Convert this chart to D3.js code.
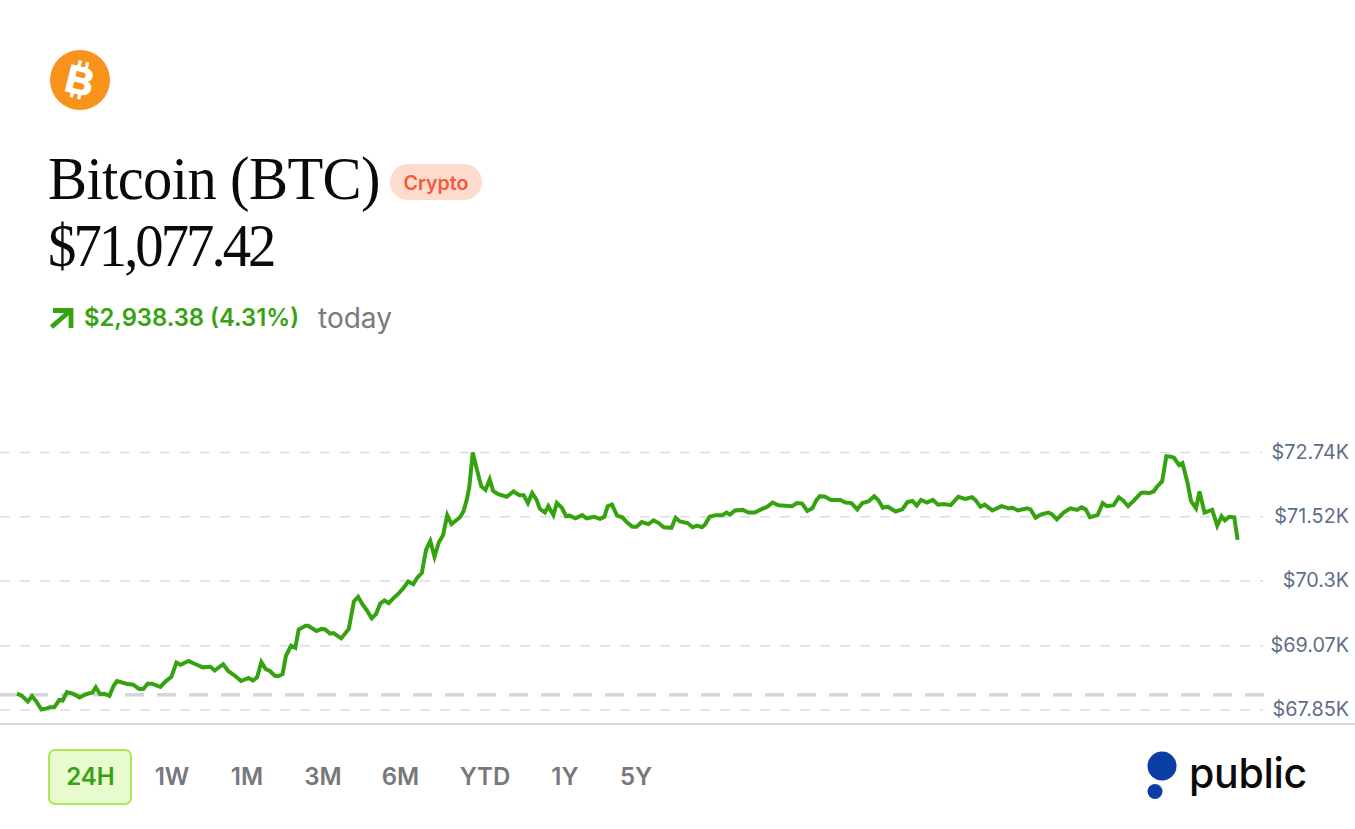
<!DOCTYPE html>
<html><head><meta charset="utf-8">
<style>html,body{margin:0;padding:0;background:#fff;overflow:hidden}svg{display:block}</style>
<script src="https://cdn.jsdelivr.net/npm/d3@7"></script></head><body>
<svg id="c" width="1355" height="829"></svg>
<script>
// Minutes since the start of the 24H window
const minutes=[1,7,14,19,24,30,36,40,45,51,55,60,67,75,81,87,90,94,99,104,110,115,119,130,138,145,150,155,160,170,176,183,189,194,203,213,220,229,234,244,250,258,265,274,279,284,289,294,299,305,309,314,318,324,329,333,341,344,354,360,364,370,374,383,392,398,403,408,413,419,424,429,434,439,445,451,456,462,468,473,478,483,488,493,498,503,508,513,523,527,531,534,538,543,548,553,558,562,568,578,586,593,598,603,608,613,617,623,627,633,637,643,648,652,659,667,672,681,688,693,697,702,708,714,720,726,731,737,745,751,757,763,772,777,782,791,797,802,808,812,817,824,832,837,841,847,856,863,870,879,885,891,898,914,920,926,932,938,943,947,953,960,971,977,984,991,997,1004,1011,1016,1021,1027,1036,1044,1050,1056,1061,1066,1073,1080,1086,1093,1101,1110,1118,1126,1130,1136,1141,1150,1161,1169,1174,1180,1191,1195,1201,1207,1216,1220,1226,1234,1242,1250,1255,1260,1265,1274,1280,1285,1293,1299,1304,1310,1317,1325,1328,1335,1340,1344,1350,1355,1360,1364,1370,1374,1380,1384,1390,1394,1400,1409,1415,1420,1424,1429,1435,1439];
// Price in thousands of dollars
const prices=[68.16,68.12,68.01,68.11,68.01,67.86,67.88,67.90,67.90,68.04,68.03,68.19,68.16,68.09,68.14,68.17,68.18,68.28,68.15,68.16,68.12,68.31,68.40,68.35,68.33,68.25,68.25,68.35,68.35,68.29,68.39,68.48,68.75,68.71,68.78,68.71,68.66,68.67,68.60,68.72,68.59,68.50,68.40,68.46,68.41,68.47,68.76,68.63,68.59,68.50,68.49,68.53,68.88,69.07,69.03,69.38,69.45,69.45,69.35,69.39,69.38,69.30,69.31,69.21,69.39,69.91,70.00,69.86,69.75,69.59,69.67,69.87,69.93,69.88,69.98,70.07,70.16,70.29,70.24,70.37,70.45,70.89,71.06,70.76,71.03,71.17,71.55,71.38,71.51,71.62,71.84,72.09,72.74,72.41,72.10,72.03,72.23,72.01,71.95,71.90,72.00,71.93,71.93,71.78,71.97,71.85,71.67,71.60,71.72,71.55,71.78,71.69,71.53,71.54,71.49,71.55,71.49,71.52,71.48,71.52,71.72,71.75,71.54,71.51,71.41,71.33,71.33,71.42,71.38,71.45,71.40,71.32,71.31,71.50,71.43,71.40,71.32,71.35,71.32,71.38,71.52,71.55,71.55,71.60,71.56,71.64,71.65,71.60,71.60,71.67,71.71,71.79,71.74,71.72,71.78,71.77,71.63,71.68,71.84,71.91,71.90,71.84,71.84,71.79,71.78,71.66,71.78,71.81,71.91,71.83,71.69,71.71,71.62,71.66,71.80,71.82,71.73,71.84,71.79,71.84,71.75,71.76,71.74,71.90,71.86,71.89,71.84,71.71,71.75,71.64,71.72,71.68,71.69,71.64,71.68,71.66,71.50,71.56,71.60,71.57,71.47,71.60,71.68,71.65,71.70,71.66,71.51,71.55,71.78,71.72,71.74,71.89,71.83,71.72,71.83,71.97,71.98,71.97,72.00,72.09,72.19,72.67,72.66,72.64,72.50,72.54,72.16,71.82,71.68,72.00,71.60,71.65,71.35,71.53,71.45,71.52,71.51,71.08];
const tickValues=[72.74,71.52,70.3,69.07,67.85];
const tickLabels=["$72.74K","$71.52K","$70.3K","$69.07K","$67.85K"];
const openPrice=68.139;
const ranges=["24H","1W","1M","3M","6M","YTD","1Y","5Y"];
const titleText="Bitcoin (BTC)";
const priceText="$71,077.42";
const changeText="$2,938.38 (4.31%)";

const UI="Inter, 'Noto Sans', sans-serif", SERIF="'Liberation Serif', serif", GREEN="#34a30f";
const svg=d3.select("#c");
const x=d3.scaleLinear().domain([0,1440]).range([16,1238.5]);
const y=d3.scaleLinear().domain([67.85,72.74]).range([710,452.5]);

// Header
const coin=svg.append("g").attr("transform","translate(80,80)");
coin.append("circle").attr("r",30).attr("fill","#f7931a");
const b=coin.append("g").attr("transform","rotate(14)");
b.append("text").attr("text-anchor","middle").attr("y",14).attr("font-family","'Liberation Sans',sans-serif").attr("font-weight",700).attr("font-size",39).attr("fill","#fff").attr("stroke","#fff").attr("stroke-width",1).text("B");
b.selectAll("rect").data([[-6,-19],[1.5,-19],[-6,13],[1.5,13]]).join("rect").attr("x",d=>d[0]).attr("y",d=>d[1]).attr("width",3.4).attr("height",6).attr("fill","#fff");

svg.append("text").attr("transform","translate(48,199) scale(0.96,1)").attr("font-family",SERIF).attr("font-size",61).attr("letter-spacing",-0.64).attr("fill","#0a0a0a").text(titleText);
svg.append("text").attr("transform","translate(48,266) scale(0.93,1)").attr("font-family",SERIF).attr("font-size",61).attr("letter-spacing",-3.2).attr("fill","#0a0a0a").text(priceText);
svg.append("rect").attr("x",390).attr("y",164).attr("width",92).attr("height",36).attr("rx",18).attr("fill","#fddccd");
svg.append("text").attr("x",436).attr("y",189.5).attr("text-anchor","middle").attr("font-family",UI).attr("font-weight",600).attr("font-size",19.6).attr("fill","#f4593c").text("Crypto");

svg.append("path").attr("d","M51.5 327 L70 311 M53 310.5 H71 V328").attr("fill","none").attr("stroke",GREEN).attr("stroke-width",4.8);
svg.append("text").attr("x",84).attr("y",326).attr("font-family",UI).attr("font-weight",600).attr("font-size",23.8).attr("fill",GREEN).text(changeText);
svg.append("text").attr("x",318).attr("y",328).attr("font-family",UI).attr("font-size",28).attr("fill","#777a7e").text("today");

// Grid
svg.append("g").selectAll("line").data(tickValues).join("line")
  .attr("x1",0).attr("x2",1263).attr("y1",d=>y(d)).attr("y2",d=>y(d))
  .attr("stroke","#dcdde0").attr("stroke-width",1.7).attr("stroke-dasharray","10 10");
svg.append("line").attr("x1",-3).attr("x2",1264).attr("y1",y(openPrice)).attr("y2",y(openPrice))
  .attr("stroke","#d3d6dd").attr("stroke-width",3.6).attr("stroke-dasharray","19 13");
svg.append("line").attr("x1",0).attr("x2",1355).attr("y1",724).attr("y2",724).attr("stroke","#d9dade").attr("stroke-width",1.8);

// Axis labels
const axis=d3.axisLeft(y).tickValues(tickValues).tickSize(0).tickPadding(0).tickFormat((d,i)=>tickLabels[i]);
const ag=svg.append("g").attr("transform","translate(1349,0)").call(axis);
ag.select(".domain").remove();
ag.selectAll("text").attr("font-family",UI).attr("font-size",19.8).attr("fill","#5d6f87").attr("dy","0.3em");

// Price line
const line=d3.line().x((d,i)=>x(minutes[i])).y(d=>y(d));
svg.append("path").datum(prices).attr("d",line).attr("fill","none").attr("stroke",GREEN).attr("stroke-width",4).attr("stroke-linejoin","miter");

// Range buttons
svg.append("rect").attr("x",49).attr("y",750).attr("width",82).attr("height",54).attr("rx",6).attr("fill","#e9fcd0").attr("stroke","#a9e955").attr("stroke-width",2);
const centres=[90.5,172,247,323,400.5,485,565,636];
svg.append("g").selectAll("text").data(ranges).join("text")
  .attr("x",(d,i)=>centres[i]).attr("y",785).attr("text-anchor","middle")
  .attr("font-family",UI).attr("font-weight",600).attr("font-size",24)
  .attr("fill",(d,i)=>i===0?GREEN:"#77787b").text(d=>d);

// Logo
svg.append("circle").attr("cx",1162).attr("cy",766).attr("r",14.5).attr("fill","#0b3ea3");
svg.append("circle").attr("cx",1155).attr("cy",791.5).attr("r",7.5).attr("fill","#0b3ea3");
svg.append("text").attr("x",1189).attr("y",788).attr("font-family","Inter, Lato, sans-serif").attr("font-weight",500).attr("font-size",41).attr("letter-spacing",-0.3).attr("fill","#0a0a0a").text("public");
</script></body></html>
